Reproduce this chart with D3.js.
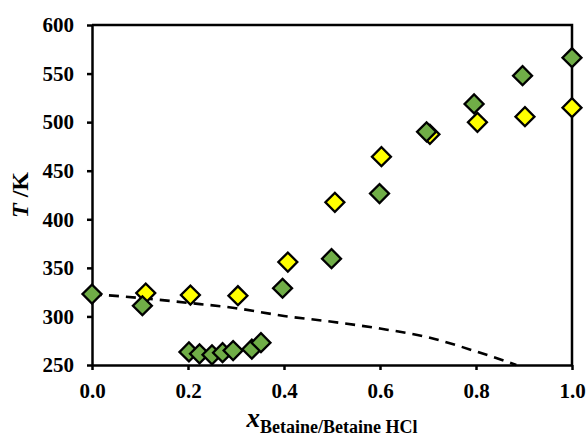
<!DOCTYPE html>
<html>
<head>
<meta charset="utf-8">
<script src="https://cdn.jsdelivr.net/npm/d3@7"></script>
<style>
  html, body { margin: 0; padding: 0; background: #fff; }
  svg text { font-family: "Liberation Serif", "Times New Roman", serif; font-weight: bold; fill: #000; }
</style>
</head>
<body>
<svg id="chart" width="587" height="437"></svg>
<script>
// Solid–liquid data: mole fraction of betaine vs temperature (K)
const greenX = [0.0, 0.105, 0.202, 0.224, 0.250, 0.272, 0.294, 0.333, 0.352, 0.397, 0.499, 0.599, 0.697, 0.796, 0.897, 1.0];
const greenT = [323, 311, 263.4, 261.5, 260.5, 262.7, 264.8, 266.3, 273, 329, 359.5, 426.5, 490, 518.8, 547.8, 566.3];

const yellowX = [0.112, 0.205, 0.304, 0.408, 0.506, 0.603, 0.704, 0.803, 0.902, 1.0];
const yellowT = [324, 322, 321.3, 356, 417.5, 464.4, 487.5, 499.8, 505.6, 514.9];

// Ideal-solubility curve (dashed)
const idealX = [0.0, 0.1, 0.2, 0.3, 0.4, 0.5, 0.6, 0.7, 0.8, 0.884];
const idealT = [323, 319, 314, 308.5, 300.5, 294.5, 287.5, 278.5, 264, 250];

const xTicks = [0, 0.2, 0.4, 0.6, 0.8, 1.0];
const yTicks = [250, 300, 350, 400, 450, 500, 550, 600];

const svg = d3.select("#chart");
const m = { left: 92, top: 25, right: 15, bottom: 72 };
const W = 587, H = 437;

const x = d3.scaleLinear().domain([0, 1]).range([m.left, W - m.right]);
const y = d3.scaleLinear().domain([250, 600]).range([H - m.bottom, m.top]);

// frame: top and right borders
svg.append("path")
  .attr("d", `M${x(0)},${y(600)}H${x(1)}V${y(250)}`)
  .attr("fill", "none").attr("stroke", "#000").attr("stroke-width", 2.5);

// dashed ideal curve
const line = d3.line().x(d => x(d[0])).y(d => y(d[1])).curve(d3.curveMonotoneX);
svg.append("path")
  .datum(idealX.map((v, i) => [v, idealT[i]]))
  .attr("d", line)
  .attr("fill", "none").attr("stroke", "#000")
  .attr("stroke-width", 2.6).attr("stroke-dasharray", "10,7");

// axes
const xAxis = svg.append("g")
  .attr("transform", `translate(0,${y(250)})`)
  .call(d3.axisBottom(x).tickValues(xTicks).tickFormat(d3.format(".1f")).tickSize(5).tickPadding(13).tickSizeOuter(0));
const yAxis = svg.append("g")
  .attr("transform", `translate(${x(0)},0)`)
  .call(d3.axisLeft(y).tickValues(yTicks).tickFormat(d3.format("d")).tickSize(5).tickPadding(13).tickSizeOuter(0));

[xAxis, yAxis].forEach(g => {
  g.select(".domain").attr("stroke", "#000").attr("stroke-width", 2.5);
  g.selectAll(".tick line").attr("stroke", "#000").attr("stroke-width", 2.5);
  g.selectAll(".tick text")
    .style("font-family", '"Liberation Serif", "Times New Roman", serif')
    .style("font-weight", "bold").style("font-size", "21px").attr("fill", "#000");
});

// markers: rotated squares (diamonds)
const diamond = d3.symbol().type(d3.symbolSquare).size(180);
function drawSeries(xs, ts, color) {
  svg.append("g").selectAll("path")
    .data(xs.map((v, i) => [v, ts[i]]))
    .join("path")
    .attr("d", diamond)
    .attr("transform", d => `translate(${x(d[0])},${y(d[1])}) rotate(45)`)
    .attr("fill", color).attr("stroke", "#000").attr("stroke-width", 2.3);
}
drawSeries(yellowX, yellowT, "#FFFF00");
drawSeries(greenX, greenT, "#70AD47");

// axis titles
const xt = svg.append("text")
  .attr("x", (x(0) + x(1)) / 2).attr("y", 427)
  .attr("text-anchor", "middle");
xt.append("tspan").text("x").style("font-style", "italic").style("font-size", "27px");
xt.append("tspan").text("Betaine/Betaine HCl").style("font-size", "18px").attr("dy", 6);

const yt = svg.append("text")
  .attr("transform", `translate(28,${(y(250) + y(600)) / 2}) rotate(-90)`)
  .attr("text-anchor", "middle").style("font-size", "24px");
yt.append("tspan").text("T").style("font-style", "italic");
yt.append("tspan").text(" /K");
</script>
</body>
</html>
